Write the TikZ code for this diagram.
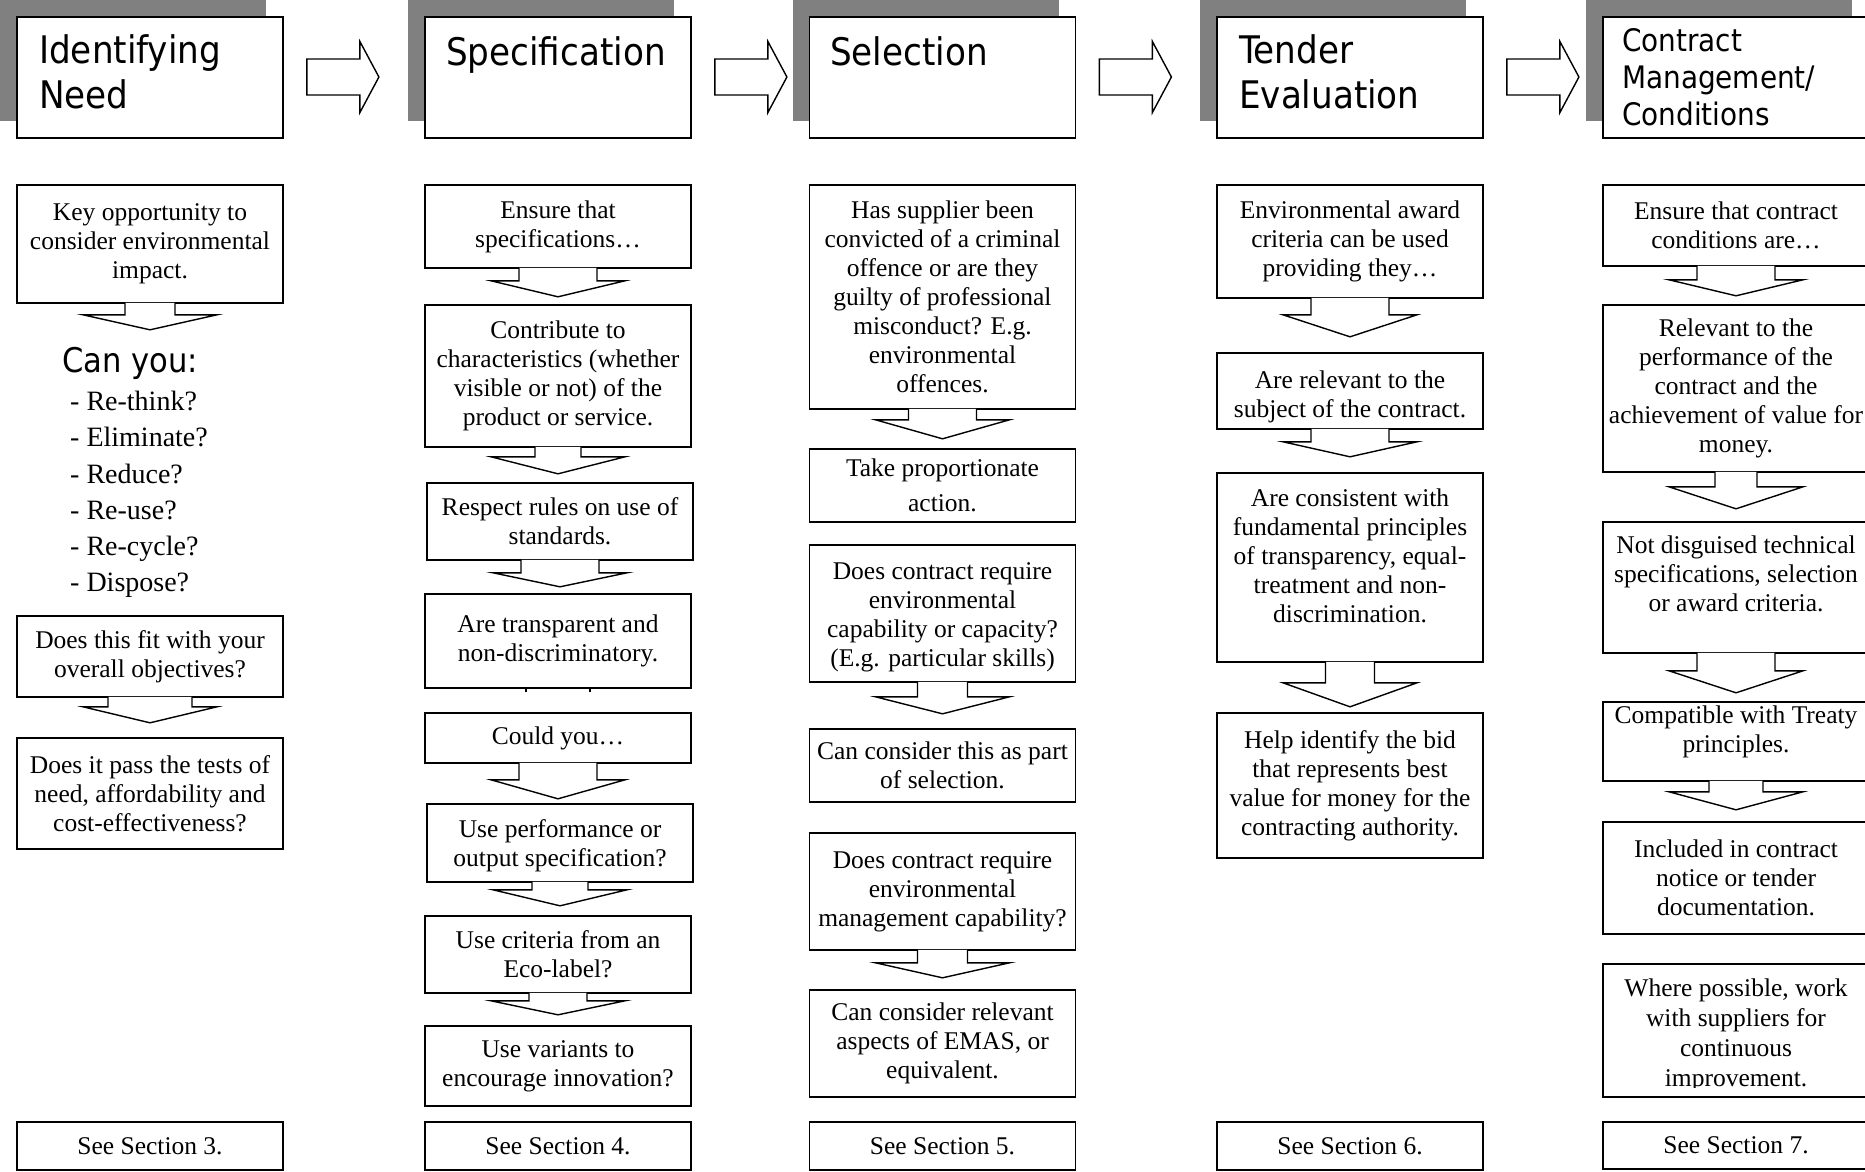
\documentclass[tikz,border=0pt]{standalone}
\usepackage{fontspec}
\setmainfont{Liberation Serif}
\newfontfamily\headfont{DejaVu Sans Condensed}
\usetikzlibrary{shadows}
\def\blockdown(#1)(#2:#3:#4){\draw[blockarrow] ([yshift=1pt]#1.south) ++(-#2,0) -- ++(0,#3+1) -- ++(#2-67,0) -- ++(67,#4) -- ++(67,-#4) -- ++(-67+#2,0) -- ++(0,-#3-1);}
\def\blockright(#1){\draw[blockarrow] ([xshift=23pt]#1.east) ++(0,-18.5) -- ++(53,0) -- ++(0,-17.5) -- ++(19,35.5) -- ++(-19,35.5) -- ++(0,-17.5) -- ++(-53,0) -- cycle;}

\begin{document}
\begin{tikzpicture}[x=1pt, y=-1pt,
	box/.style={draw, line width=1.6pt, fill=white, minimum width=266pt, inner sep=2pt, align=center, font=\fontsize{25.5pt}{29pt}\selectfont},
	headbox/.style={draw, line width=1.8pt, fill=white, minimum width=266pt, minimum height=121pt, drop shadow={shadow xshift=-17pt, shadow yshift=17pt, fill=black!50, opacity=1}},
	headtext/.style={anchor=north west, inner sep=0pt, align=left, font=\headfont\fontsize{38pt}{45pt}\selectfont},
	blockarrow/.style={draw, line width=1.4pt, fill=white, line join=miter}]
			%%%%% START %%%%%
			
			\useasboundingbox (0,0) rectangle (1865,1171);
			\fill[white] (0,0) rectangle (1865,1171);
			
			\node[headbox] (h1) at (150,77.5) {};
			\node[headbox] (h2) at (558,77.5) {};
			\node[headbox] (h3) at (942.5,77.5) {};
			\node[headbox] (h4) at (1350,77.5) {};
			\node[headbox] (h5) at (1736,77.5) {};
			\node[headtext] (t1) at (39,34) {Identifying\\Need};
			\node[headtext] (t2) at (446,36) {Specification};
			\node[headtext] (t3) at (830,36) {Selection};
			\node[headtext] (t4) at (1239,34) {Tender\\Evaluation};
			\node[headtext, font=\headfont\fontsize{31pt}{37pt}\selectfont] (t5) at (1622,28) {Contract\\Management/\\Conditions};
			\blockright(h1)
			\blockright(h2)
			\blockright(h3)
			\blockright(h4)
			
			% identifying need
			\node[box, minimum height=118pt] (a1) at (150,244) {Key opportunity to\\consider environmental\\impact.};
			\blockdown(a1)(25:11:15)
			\node[anchor=base west, inner sep=0pt, font=\headfont\fontsize{34pt}{40pt}\selectfont] (canyou) at (62,372) {Can you:};
			\node[anchor=north west, inner sep=0pt, align=left, font=\fontsize{28pt}{36.2pt}\selectfont] (canlist) at (70,391) {- Re-think?\\- Eliminate?\\- Reduce?\\- Re-use?\\- Re-cycle?\\- Dispose?};
			\node[box, minimum height=81pt] (a2) at (150,656.5) {Does this fit with your\\overall objectives?};
			\node[box, minimum height=111pt] (a3) at (150,793.5) {Does it pass the tests of\\need, affordability and\\cost-effectiveness?};
			\blockdown(a2)(42:9:16)
			\node[box, minimum height=48pt] (s1) at (150,1146) {See Section 3.};
			
			% specification
			\node[box, minimum height=83pt] (b1) at (558,226.5) {Ensure that\\specifications…};
			\node[box, minimum height=142pt] (b2) at (558,376) {Contribute to\\characteristics (whether\\visible or not) of the\\product or service.};
			\node[box, minimum height=77pt] (b3) at (560,521.5) {Respect rules on use of\\standards.};
			\node[box, minimum height=94pt] (b4) at (558,641) {Are transparent and\\non-discriminatory.};
			\blockdown(b1)(39:12:16)
			\blockdown(b2)(23:9:17)
			\blockdown(b3)(39:12:14)
			\draw[line width=1.6pt] ([xshift=-32pt]b4.south) -- ++(0,3);
			\draw[line width=1.6pt] ([xshift=32pt]b4.south) -- ++(0,3);
			\node[box, minimum height=50pt] (b5) at (558,738) {Could you…};
			\node[box, minimum height=78pt] (b6) at (560,843) {\rule{0pt}{24pt}Use performance or\\output specification?};
			\node[box, minimum height=77pt] (b7) at (558,954.5) {Use criteria from an\\Eco-label?};
			\node[box, minimum height=80pt] (b8) at (558,1066) {Use variants to\\encourage innovation?};
			\blockdown(b5)(39:16:19)
			\blockdown(b6)(28:7:16)
			\blockdown(b7)(29:7:14)
			\node[box, minimum height=48pt] (s2) at (558,1146) {See Section 4.};
			
			% selection
			\node[box, minimum height=224pt] (c1) at (942.5,297) {Has supplier been\\convicted of a criminal\\offence or are they\\guilty of professional\\misconduct? E.g.\\environmental\\offences.};
			\node[box, minimum height=73pt, font=\fontsize{25.5pt}{35pt}\selectfont] (c2) at (942.5,485.5) {Take proportionate\\action.};
			\blockdown(c1)(34:10:19)
			\node[box, minimum height=137pt] (c3) at (942.5,613.5) {\rule{0pt}{24pt}Does contract require\\environmental\\capability or capacity?\\(E.g. particular skills)};
			\node[box, minimum height=73pt] (c4) at (942.5,765.5) {Can consider this as part\\of selection.};
			\blockdown(c3)(25:14:17)
			\node[box, minimum height=117pt] (c5) at (942.5,891.5) {Does contract require\\environmental\\management capability?};
			\node[box, minimum height=107pt] (c6) at (942.5,1043.5) {Can consider relevant\\aspects of EMAS, or\\equivalent.};
			\blockdown(c5)(25:12:15)
			\node[box, minimum height=48pt] (s3) at (942.5,1146) {See Section 5.};
			
			% tender evaluation
			\node[box, minimum height=113pt] (d1) at (1350,241.5) {Environmental award\\criteria can be used\\providing they…};
			\node[box, minimum height=76pt] (d2) at (1350,391) {\rule{0pt}{29pt}Are relevant to the\\subject of the contract.};
			\node[box, minimum height=189pt] (d3) at (1350,567.5) {Are consistent with\\fundamental principles\\of transparency, equal-\\treatment and non-\\discrimination.\rule[-24pt]{0pt}{1pt}};
			\node[box, minimum height=145pt] (d4) at (1350,785.5) {Help identify the bid\\that represents best\\value for money for the\\contracting authority.};
			\blockdown(d1)(39:16:22)
			\blockdown(d2)(39:12:15)
			\blockdown(d3)(24.5:20:24)
			\node[box, minimum height=48pt] (s4) at (1350,1146) {See Section 6.};
			
			% contract management
			\node[box, minimum height=81pt] (e1) at (1736,225.5) {Ensure that contract\\conditions are…};
			\node[box, minimum height=167pt] (e2) at (1736,388.5) {Relevant to the\\performance of the\\contract and the\\achievement of value for\\money.};
			\node[box, minimum height=131pt] (e3) at (1736,587.5) {Not disguised technical\\specifications, selection\\or award criteria.\rule[-27pt]{0pt}{1pt}};
			\node[box, minimum height=79pt] (e4) at (1736,741.5) {Compatible with Treaty\\principles.\rule[-25pt]{0pt}{1pt}};
			\node[box, minimum height=112pt] (e5) at (1736,878) {Included in contract\\notice or tender\\documentation.};
			\blockdown(e1)(39:13:16)
			\blockdown(e2)(21:14:22)
			\blockdown(e3)(39:17:22)
			\blockdown(e4)(27:10:18)
			\node[box, minimum height=133pt] (e6) at (1736,1030.5) {};
			\begin{scope}
				\clip (1602,963) rectangle (1870,1087);
				\node[anchor=north, inner sep=0pt, align=center, font=\fontsize{25.5pt}{30pt}\selectfont] (e6t) at (1736,978.6) {Where possible, work\\with suppliers for\\continuous\\improvement.};
			\end{scope}
			\node[box, minimum height=47pt] (s5) at (1736,1145.5) {See Section 7.};
			
			%%%%% END %%%%%
\end{tikzpicture}
\end{document}
